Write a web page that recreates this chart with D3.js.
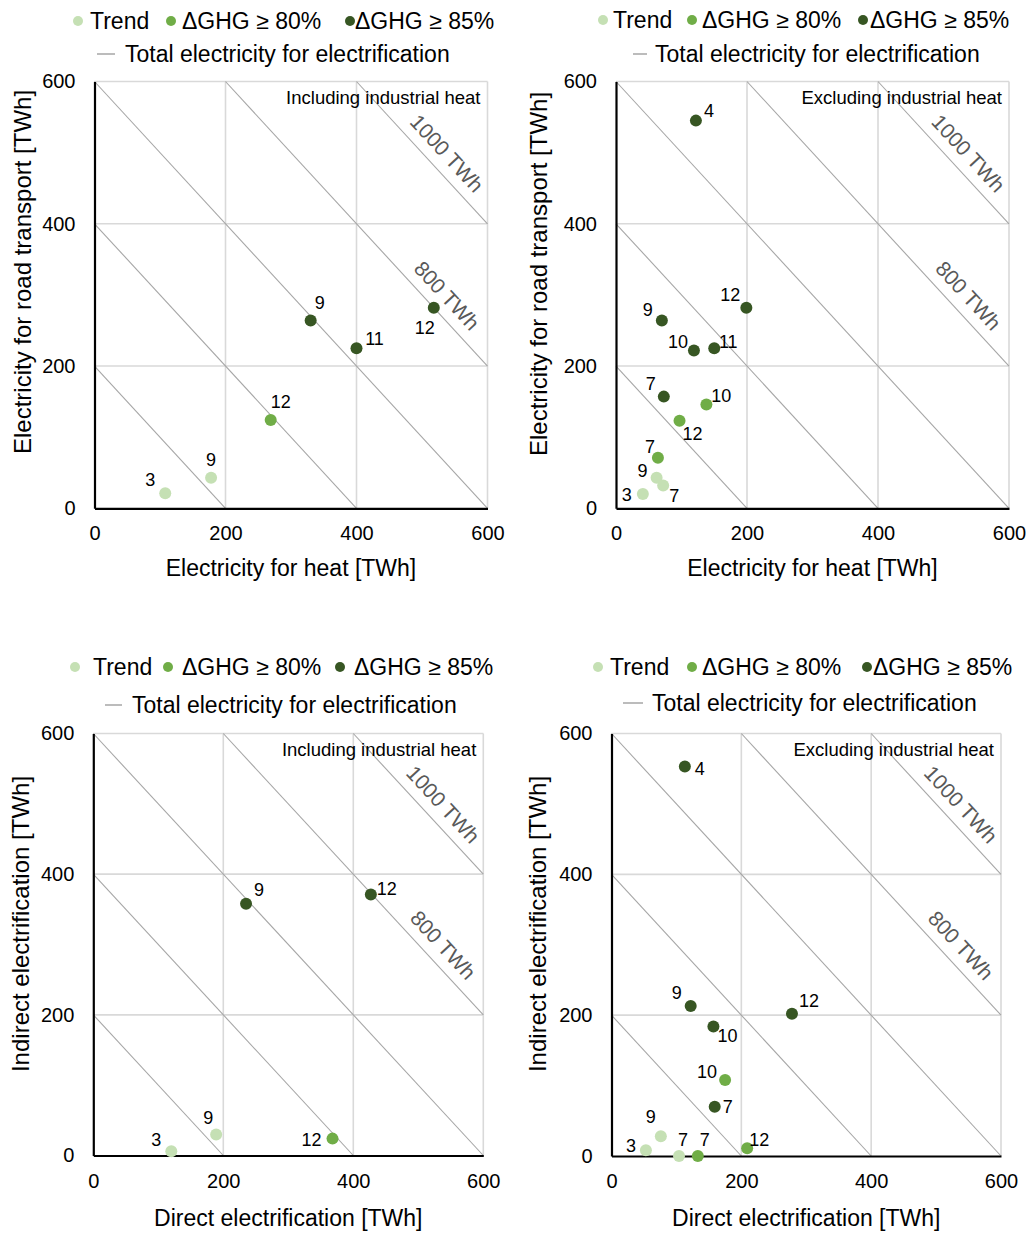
<!DOCTYPE html>
<html><head><meta charset="utf-8">
<script src="https://cdn.jsdelivr.net/npm/d3@7"></script>
<style>body{margin:0;background:#fff} text{font-family:"Liberation Sans",Arial,sans-serif}</style>
</head><body><svg id="c" width="1031" height="1233"></svg>
<script>
// ---------- data ----------
const tickValues=[0,200,400,600];
const totals=[200,400,600,800,1000];
const totalLabelValues=[800,1000];
const totalLabelTexts=["800 TWh","1000 TWh"];
const seriesNames=["Trend","ΔGHG ≥ 80%","ΔGHG ≥ 85%"];
const lineLegendText="Total electricity for electrification";
const seriesColors=["#c5e0b4","#70ad47","#375623"];

// Panel 1: heat vs road transport, including industrial heat
const p1Trend=[{x:108,y:21,n:"3"},{x:178,y:43,n:"9"}];
const p1G80=[{x:269,y:124,n:"12"}];
const p1G85=[{x:330,y:264,n:"9"},{x:400,y:225,n:"11"},{x:518,y:282,n:"12"}];
// Panel 2: heat vs road transport, excluding industrial heat
const p2Trend=[{x:41,y:20,n:"3"},{x:62,y:43,n:"9"},{x:72,y:32,n:"7"}];
const p2G80=[{x:64,y:71,n:"7"},{x:97,y:123,n:"12"},{x:138,y:146,n:"10"}];
const p2G85=[{x:122,y:545,n:"4"},{x:70,y:264,n:"9"},{x:119,y:222,n:"10"},{x:150,y:225,n:"11"},{x:199,y:282,n:"12"},{x:73,y:157,n:"7"}];
// Panel 3: direct vs indirect, including industrial heat
const p3Trend=[{x:120,y:6,n:"3"},{x:189,y:30,n:"9"}];
const p3G80=[{x:368,y:24,n:"12"}];
const p3G85=[{x:235,y:358,n:"9"},{x:427,y:371,n:"12"}];
// Panel 4: direct vs indirect, excluding industrial heat
const p4Trend=[{x:53,y:8,n:"3"},{x:76,y:28,n:"9"},{x:104,y:0,n:"7"}];
const p4G80=[{x:133,y:0,n:"7"},{x:175,y:108,n:"10"},{x:209,y:11,n:"12"}];
const p4G85=[{x:113,y:553,n:"4"},{x:122,y:213,n:"9"},{x:157,y:184,n:"10"},{x:159,y:70,n:"7"},{x:278,y:202,n:"12"}];

// ---------- layout (label offsets in px, same order as data) ----------
const p1Lab=[[[-15,-13],[0,-18]],[[10,-18]],[[9,-18],[18,-9],[-9,20]]];
const p2Lab=[[[-16,1],[-14,-7],[11,10]],[[-8,-11],[13,13],[15,-8]],[[13,-10],[-14,-11],[-16,-8],[14,-6],[-16,-13],[-13,-13]]];
const p3Lab=[[[-15,-11],[-8,-16]],[[-21,1]],[[13,-14],[16,-6]]];
const p4Lab=[[[-15,-4],[-10,-19],[4,-16]],[[7,-16],[-18,-8],[12,-8]],[[15,2],[-14,-13],[14,10],[13,0],[17,-13]]];

const panels=[
 {rect:[94.5,487.5,81.5,508.3],xTitle:"Electricity for heat [TWh]",yTitle:"Electricity for road transport [TWh]",note:"Including industrial heat",
  series:[p1Trend,p1G80,p1G85],labs:p1Lab,leg:{y1:21,y2:54,mx:[78,171,350],tx:[90,182,355],lx:[97,115],ltx:125},yT:[22,272],xTY:568},
 {rect:[616,1009,81.5,508.3],xTitle:"Electricity for heat [TWh]",yTitle:"Electricity for road transport [TWh]",note:"Excluding industrial heat",
  series:[p2Trend,p2G80,p2G85],labs:p2Lab,leg:{y1:20,y2:54,mx:[603,692,863],tx:[613,702,870],lx:[633,647],ltx:655},yT:[538,274],xTY:568},
 {rect:[93.3,483.3,733.5,1155.5],xTitle:"Direct electrification [TWh]",yTitle:"Indirect electrification [TWh]",note:"Including industrial heat",
  series:[p3Trend,p3G80,p3G85],labs:p3Lab,leg:{y1:667,y2:705,mx:[75,168,340],tx:[93,182,354],lx:[105,122],ltx:132},yT:[20,924],xTY:1218},
 {rect:[611.5,1001,733.5,1156],xTitle:"Direct electrification [TWh]",yTitle:"Indirect electrification [TWh]",note:"Excluding industrial heat",
  series:[p4Trend,p4G80,p4G85],labs:p4Lab,leg:{y1:667,y2:703,mx:[598,692,867],tx:[610,702,873],lx:[623,643],ltx:652},yT:[537,924],xTY:1218}
];

const svg=d3.select("#c");
panels.forEach(p=>{
  const [x0,x1,y0,y1]=p.rect;
  const x=d3.scaleLinear().domain([0,600]).range([x0,x1]);
  const y=d3.scaleLinear().domain([0,600]).range([y1,y0]);
  const g=svg.append("g");
  // gridlines
  tickValues.filter(t=>t>0).forEach(t=>{
    g.append("line").attr("x1",x(t)).attr("x2",x(t)).attr("y1",y0).attr("y2",y1).attr("stroke","#d9d9d9").attr("stroke-width",1.6);
    g.append("line").attr("x1",x0).attr("x2",x1).attr("y1",y(t)).attr("y2",y(t)).attr("stroke","#d9d9d9").attr("stroke-width",1.6);
  });
  // diagonal total lines
  totals.forEach(t=>{
    const a=[Math.max(0,t-600),Math.min(600,t)], b=[Math.min(600,t),Math.max(0,t-600)];
    g.append("line").attr("x1",x(a[0])).attr("y1",y(a[1])).attr("x2",x(b[0])).attr("y2",y(b[1]))
      .attr("stroke","#a6a6a6").attr("stroke-width",1.1);
  });
  // diagonal labels
  const ang=Math.atan2(y(0)-y(1),x(1)-x(0));
  const angDeg=ang*180/Math.PI;
  const perp=[Math.sin(ang),-Math.cos(ang)];
  totalLabelValues.forEach((t,i)=>{
    const dx=518, px=x(dx), py=y(t-dx), d=18;
    g.append("text").attr("transform",`translate(${px+perp[0]*d},${py+perp[1]*d}) rotate(${angDeg})`)
      .attr("text-anchor","middle").attr("dominant-baseline","central").attr("font-size",21).attr("fill","#595959")
      .text(totalLabelTexts[i]);
  });
  // axes
  const ya=g.append("g").attr("transform",`translate(${x0},0)`).call(d3.axisLeft(y).tickValues(tickValues).tickSize(0).tickPadding(19));
  const xa=g.append("g").attr("transform",`translate(0,${y1})`).call(d3.axisBottom(x).tickValues(tickValues).tickSize(0).tickPadding(18));
  [ya,xa].forEach(a=>{a.attr("font-family",null).attr("font-size",null);
    a.select(".domain").attr("stroke","#000").attr("stroke-width",2.2);
    a.selectAll("text").attr("font-size",20).attr("fill","#000");});
  // note
  g.append("text").attr("x",x1-7).attr("y",y0+16).attr("text-anchor","end").attr("dominant-baseline","central")
    .attr("font-size",18.5).text(p.note);
  // points
  p.series.forEach((s,si)=>{
    g.selectAll(null).data(s).enter().append("circle").attr("cx",d=>x(d.x)).attr("cy",d=>y(d.y)).attr("r",6).attr("fill",seriesColors[si]);
  });
  p.series.forEach((s,si)=>{
    g.selectAll(null).data(s).enter().append("text")
      .attr("x",(d,i)=>x(d.x)+p.labs[si][i][0]).attr("y",(d,i)=>y(d.y)+p.labs[si][i][1])
      .attr("text-anchor","middle").attr("dominant-baseline","central").attr("font-size",18).attr("fill","#000").text(d=>d.n);
  });
  // axis titles
  g.append("text").attr("x",(x0+x1)/2).attr("y",p.xTY).attr("text-anchor","middle").attr("dominant-baseline","central")
    .attr("font-size",23).text(p.xTitle);
  g.append("text").attr("transform",`translate(${p.yT[0]},${p.yT[1]}) rotate(-90)`).attr("text-anchor","middle").attr("dominant-baseline","central")
    .attr("font-size",24).text(p.yTitle);
  // legend
  const L=p.leg;
  seriesNames.forEach((nm,i)=>{
    g.append("circle").attr("cx",L.mx[i]).attr("cy",L.y1).attr("r",5).attr("fill",seriesColors[i]);
    g.append("text").attr("x",L.tx[i]).attr("y",L.y1).attr("dominant-baseline","central").attr("font-size",23).text(nm);
  });
  g.append("line").attr("x1",L.lx[0]).attr("x2",L.lx[1]).attr("y1",L.y2).attr("y2",L.y2).attr("stroke","#a6a6a6").attr("stroke-width",1.5);
  g.append("text").attr("x",L.ltx).attr("y",L.y2).attr("dominant-baseline","central").attr("font-size",23).text(lineLegendText);
});
</script></body></html>
